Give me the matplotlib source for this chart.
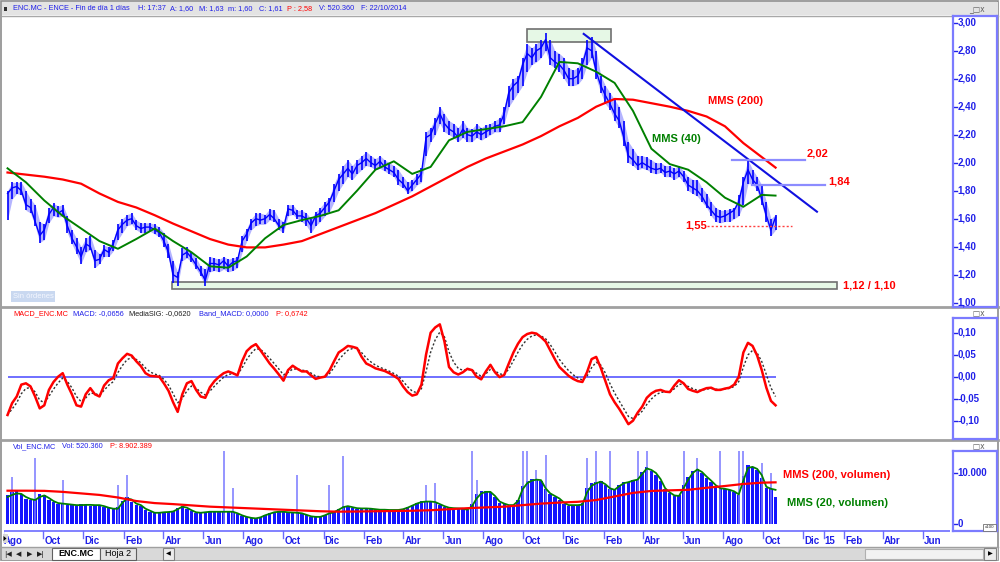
"""
Gráfico diario de ENCE (ENC.MC): precio con medias, MACD y volumen,
con el aspecto de la ventana de la plataforma de análisis.
"""

import matplotlib
matplotlib.use('Agg')
import matplotlib.pyplot as plt
import matplotlib.dates as mdates
from matplotlib.patches import Rectangle, Polygon
import pandas as pd

plt.rcParams['font.family'] = ['Liberation Sans', 'DejaVu Sans']

# Semanas con datos (lunes), agosto 2011 - octubre 2014
semanas = pd.date_range('2011-08-08', '2014-10-20', freq='7D')

precio_max = [
    1.80, 1.86, 1.86, 1.86, 1.80, 1.74, 1.70, 1.58, 1.56, 1.68,
    1.71, 1.69, 1.70, 1.62, 1.52, 1.46, 1.40, 1.46, 1.48, 1.38,
    1.35, 1.41, 1.40, 1.45, 1.56, 1.60, 1.63, 1.64, 1.59, 1.57,
    1.57, 1.57, 1.56, 1.54, 1.50, 1.42, 1.30, 1.22, 1.39, 1.40,
    1.36, 1.32, 1.26, 1.24, 1.33, 1.32, 1.31, 1.33, 1.31, 1.32,
    1.33, 1.48, 1.53, 1.60, 1.64, 1.64, 1.63, 1.67, 1.66, 1.60,
    1.58, 1.70, 1.70, 1.66, 1.66, 1.64, 1.60, 1.65, 1.68, 1.72,
    1.75, 1.85, 1.92, 1.98, 2.02, 1.98, 2.02, 2.05, 2.08, 2.05,
    2.03, 2.05, 2.02, 2.00, 1.98, 1.95, 1.90, 1.86, 1.88, 1.92,
    1.96, 2.22, 2.25, 2.32, 2.40, 2.35, 2.30, 2.28, 2.25, 2.30,
    2.25, 2.24, 2.28, 2.25, 2.27, 2.28, 2.30, 2.32, 2.40, 2.55,
    2.60, 2.62, 2.75, 2.85, 2.82, 2.85, 2.88, 2.93, 2.88, 2.80,
    2.78, 2.75, 2.68, 2.66, 2.68, 2.75, 2.88, 2.90, 2.80, 2.62,
    2.55, 2.50, 2.45, 2.40, 2.30, 2.15, 2.10, 2.05, 2.05, 2.04,
    2.02, 2.00, 2.00, 1.98, 1.98, 1.96, 1.98, 1.94, 1.90, 1.88,
    1.88, 1.82, 1.78, 1.72, 1.68, 1.66, 1.66, 1.67, 1.68, 1.77,
    1.90, 2.02, 1.95, 1.90, 1.84, 1.72, 1.60, 1.63,
]
precio_min = [
    1.59, 1.74, 1.78, 1.77, 1.66, 1.64, 1.55, 1.43, 1.45, 1.57,
    1.62, 1.61, 1.62, 1.50, 1.42, 1.35, 1.28, 1.36, 1.38, 1.25,
    1.28, 1.33, 1.33, 1.37, 1.45, 1.50, 1.55, 1.56, 1.52, 1.50,
    1.50, 1.51, 1.49, 1.47, 1.40, 1.32, 1.14, 1.12, 1.30, 1.32,
    1.29, 1.24, 1.19, 1.12, 1.22, 1.23, 1.22, 1.24, 1.22, 1.23,
    1.25, 1.36, 1.44, 1.52, 1.55, 1.56, 1.56, 1.59, 1.58, 1.52,
    1.50, 1.62, 1.63, 1.60, 1.58, 1.55, 1.50, 1.55, 1.58, 1.62,
    1.65, 1.72, 1.80, 1.85, 1.90, 1.88, 1.92, 1.95, 1.98, 1.97,
    1.95, 1.96, 1.94, 1.92, 1.90, 1.84, 1.82, 1.78, 1.80, 1.84,
    1.86, 2.05, 2.15, 2.20, 2.28, 2.22, 2.20, 2.18, 2.15, 2.18,
    2.15, 2.15, 2.18, 2.16, 2.18, 2.20, 2.22, 2.22, 2.28, 2.40,
    2.45, 2.50, 2.55, 2.65, 2.70, 2.72, 2.75, 2.80, 2.70, 2.68,
    2.65, 2.60, 2.55, 2.55, 2.56, 2.60, 2.70, 2.75, 2.60, 2.50,
    2.42, 2.38, 2.30, 2.25, 2.12, 2.00, 1.98, 1.95, 1.96, 1.95,
    1.93, 1.92, 1.93, 1.90, 1.90, 1.88, 1.90, 1.86, 1.80, 1.78,
    1.76, 1.72, 1.68, 1.62, 1.58, 1.57, 1.58, 1.58, 1.60, 1.62,
    1.70, 1.85, 1.85, 1.80, 1.70, 1.58, 1.48, 1.52,
]
precio_cierre = [
    1.78, 1.82, 1.83, 1.80, 1.70, 1.68, 1.58, 1.48, 1.52, 1.63,
    1.68, 1.64, 1.66, 1.55, 1.46, 1.40, 1.33, 1.42, 1.40, 1.30,
    1.31, 1.38, 1.36, 1.42, 1.52, 1.56, 1.59, 1.60, 1.55, 1.53,
    1.54, 1.54, 1.52, 1.50, 1.44, 1.36, 1.20, 1.18, 1.34, 1.36,
    1.32, 1.27, 1.22, 1.16, 1.28, 1.28, 1.27, 1.30, 1.26, 1.29,
    1.30, 1.44, 1.49, 1.57, 1.60, 1.59, 1.60, 1.63, 1.60, 1.55,
    1.53, 1.67, 1.66, 1.62, 1.62, 1.60, 1.55, 1.62, 1.64, 1.68,
    1.72, 1.80, 1.88, 1.92, 1.96, 1.92, 1.98, 2.00, 2.03, 2.00,
    1.98, 2.01, 1.97, 1.95, 1.93, 1.88, 1.85, 1.80, 1.84, 1.88,
    1.92, 2.18, 2.20, 2.28, 2.35, 2.28, 2.24, 2.22, 2.18, 2.24,
    2.20, 2.19, 2.22, 2.20, 2.22, 2.24, 2.26, 2.27, 2.35, 2.50,
    2.55, 2.58, 2.70, 2.78, 2.75, 2.80, 2.82, 2.88, 2.75, 2.72,
    2.70, 2.66, 2.60, 2.60, 2.62, 2.70, 2.82, 2.80, 2.65, 2.55,
    2.48, 2.42, 2.35, 2.30, 2.18, 2.05, 2.02, 1.98, 2.00, 1.98,
    1.96, 1.95, 1.96, 1.93, 1.94, 1.92, 1.94, 1.90, 1.84, 1.82,
    1.80, 1.76, 1.70, 1.66, 1.62, 1.61, 1.62, 1.64, 1.66, 1.72,
    1.86, 1.95, 1.88, 1.84, 1.74, 1.62, 1.52, 1.61,
]

# Medias móviles del precio, leídas cada 4 semanas
idx_medias = list(range(0, 168, 4)) + [167]
mms200 = [
    1.93, 1.915, 1.90, 1.88, 1.85, 1.78, 1.72, 1.68, 1.625, 1.565,
    1.51, 1.455, 1.415, 1.395, 1.395, 1.415, 1.44, 1.49, 1.54, 1.59,
    1.64, 1.70, 1.76, 1.83, 1.90, 1.97, 2.03, 2.08, 2.13, 2.19,
    2.26, 2.32, 2.40, 2.455, 2.45, 2.425, 2.40, 2.37, 2.33, 2.26,
    2.14, 2.04, 1.965,
]
mms40 = [
    1.96, 1.86, 1.73, 1.62, 1.53, 1.44, 1.385, 1.455, 1.53, 1.44,
    1.36, 1.26, 1.25, 1.33, 1.46, 1.555, 1.59, 1.62, 1.66, 1.80,
    1.95, 2.01, 1.92, 1.97, 2.16, 2.22, 2.24, 2.26, 2.29, 2.47,
    2.72, 2.71, 2.65, 2.57, 2.37, 2.10, 1.99, 1.95, 1.86, 1.75,
    1.685, 1.77, 1.765,
]

macd = [
    -0.087, -0.060, -0.045, -0.018, -0.015, -0.022, -0.045, -0.072, -0.065, -0.030,
    -0.012, 0.000, 0.008, -0.018, -0.040, -0.065, -0.068, -0.040, -0.026, -0.040,
    -0.045, -0.020, -0.008, -0.003, 0.030, 0.042, 0.052, 0.048, 0.035, 0.024,
    0.008, 0.002, 0.001, 0.000, -0.015, -0.032, -0.058, -0.080, -0.040, -0.015,
    -0.010, -0.030, -0.045, -0.048, -0.024, -0.010, 0.000, 0.008, 0.012, 0.008,
    0.003, 0.035, 0.058, 0.068, 0.074, 0.060, 0.045, 0.030, 0.018, 0.005,
    -0.009, 0.015, 0.025, 0.018, 0.012, 0.012, 0.003, -0.005, -0.002, 0.000,
    0.014, 0.035, 0.055, 0.062, 0.070, 0.068, 0.065, 0.045, 0.030, 0.025,
    0.019, 0.016, 0.013, 0.008, 0.002, -0.005, -0.022, -0.035, -0.043, -0.040,
    -0.018, 0.050, 0.100, 0.112, 0.119, 0.080, 0.022, 0.010, 0.005, 0.010,
    0.018, 0.015, 0.000, -0.006, 0.012, 0.027, 0.010, -0.001, 0.004, 0.030,
    0.055, 0.075, 0.090, 0.097, 0.100, 0.098, 0.090, 0.080, 0.060, 0.040,
    0.022, 0.012, 0.002, -0.005, -0.010, -0.012, 0.010, 0.040, 0.045, 0.020,
    -0.010, -0.040, -0.058, -0.073, -0.090, -0.108, -0.100, -0.082, -0.068, -0.048,
    -0.038, -0.032, -0.030, -0.034, -0.035, -0.020, -0.008, -0.015, -0.028, -0.032,
    -0.035, -0.030, -0.026, -0.025, -0.030, -0.030, -0.027, -0.025, -0.018, 0.000,
    0.055, 0.077, 0.070, 0.048, 0.015, -0.025, -0.055, -0.065,
]

# Volumen (x100 títulos)
volumen = [
    5600, 6200, 6400, 5800, 5000, 4800, 5000, 5800, 5600, 4800,
    4300, 4000, 4200, 3800, 3700, 3600, 3900, 3800, 3600, 3800,
    3600, 3300, 3100, 2900, 3300, 4600, 5200, 4400, 3800, 3500,
    2800, 2400, 2100, 2300, 2300, 2400, 2600, 3200, 3500, 3000,
    2500, 2200, 2200, 2400, 2500, 2300, 2400, 2500, 2300, 2400,
    1900, 1500, 1300, 1100, 1100, 1400, 1800, 2200, 2400, 2500,
    2300, 2300, 2200, 2300, 2000, 1700, 1400, 1300, 1500, 1800,
    2200, 2500, 3000, 3600, 3600, 3200, 3000, 3100, 3000, 2900,
    2800, 2800, 2700, 2800, 2700, 2800, 3000, 3400, 3800, 4200,
    4500, 4600, 4300, 4200, 3700, 3300, 3100, 3100, 3000, 2900,
    2700, 4000, 5800, 6500, 6400, 6200, 5200, 4200, 3900, 3600,
    3800, 4800, 7500, 8500, 8800, 8900, 8400, 6800, 5800, 5300,
    4800, 4000, 3600, 3700, 3800, 4200, 7000, 8000, 8200, 8400,
    7600, 6800, 6800, 7700, 8200, 8300, 8600, 8900, 10200, 11200,
    10400, 9600, 8400, 6800, 6000, 5400, 5700, 7600, 9200, 10400,
    10800, 10000, 9000, 8200, 7400, 6900, 6800, 6600, 6200, 5600,
    9500, 11500, 11200, 10500, 9000, 7000, 6800, 5200,
]
# Días sueltos de volumen muy alto (semana, valor)
picos_semana = [1, 6, 12, 24, 26, 47, 49, 63, 70, 73, 91, 93, 101, 102, 112,
                113, 115, 117, 126, 128, 131, 137, 139, 147, 150, 155, 159,
                160, 164, 166]
picos_valor = [9300, 12900, 8600, 7600, 9600, 14300, 7000, 9600, 7600, 13300,
               7600, 8000, 14300, 8600, 14300, 14300, 10600, 13500, 13000,
               14300, 14300, 14300, 14300, 14300, 13000, 14300, 14300, 14300,
               12000, 10000]
vol_mms20 = [
    5300, 5700, 6000, 5900, 5300, 4900, 4700, 5300, 5600, 5100,
    4500, 4100, 4000, 3900, 3800, 3700, 3700, 3750, 3750, 3700,
    3700, 3500, 3200, 3000, 3000, 4200, 5000, 4800, 4000, 3700,
    3000, 2600, 2200, 2200, 2300, 2350, 2450, 2900, 3400, 3200,
    2700, 2300, 2200, 2300, 2400, 2400, 2400, 2400, 2400, 2400,
    2100, 1700, 1400, 1200, 1100, 1300, 1700, 2000, 2300, 2400,
    2400, 2300, 2250, 2200, 2100, 1800, 1500, 1400, 1400, 1700,
    2100, 2300, 2800, 3300, 3500, 3300, 3100, 3050, 3050, 3000,
    2900, 2800, 2800, 2750, 2750, 2750, 2900, 3200, 3600, 4000,
    4300, 4400, 4400, 4300, 3900, 3500, 3200, 3100, 3050, 3000,
    2800, 3500, 5000, 6000, 6300, 6300, 5500, 4400, 4000, 3700,
    3700, 4500, 6800, 8000, 8500, 8700, 8600, 7000, 6000, 5500,
    5000, 4200, 3700, 3700, 3700, 3800, 6200, 7500, 8000, 8300,
    7800, 7000, 6700, 7400, 8000, 8200, 8500, 8700, 9800, 10900,
    10600, 10000, 8800, 7000, 6200, 5600, 5500, 7000, 8700, 10000,
    10700, 10200, 9300, 8500, 7600, 7000, 6900, 6700, 6400, 5800,
    8500, 11000, 11200, 10800, 9600, 7300, 6900, 6700,
]
vol_mms200 = [
    6530, 6530, 6500, 6300, 6000, 5700, 5200, 4500, 4100, 3900,
    3650, 3400, 3250, 3100, 2950, 2800, 2650, 2500, 2420, 2450,
    2500, 2550, 2600, 2700, 2900, 3100, 3250, 3400, 3700, 4000,
    4200, 4350, 4700, 5400, 6100, 6480, 6600, 6700, 7100, 7450,
    7850, 8100, 8170,
]

# Dibujos del analista sobre el precio
tendencia_fechas = ['2014-01-01', '2014-12-22']
tendencia_valores = [2.92, 1.65]
niveles = [2.02, 1.84]
niveles_desde = ['2014-08-15', '2014-09-14']
niveles_hasta = ['2014-12-04', '2015-01-03']
soporte = 1.55
soporte_fechas = ['2014-07-08', '2014-11-14']
caja_techo = [('2013-10-06', '2014-02-11'), (2.86, 2.953)]
caja_suelo = [('2012-04-14', '2015-01-22'), (1.096, 1.15)]

# Eje de tiempo
meses = list(pd.date_range('2011-08-01', '2015-06-01', freq='2MS')) + [pd.Timestamp('2015-01-01')]
nombres_mes = {1: '15', 2: 'Feb', 4: 'Abr', 6: 'Jun', 8: 'Ago', 10: 'Oct', 12: 'Dic'}

AZUL = '#0000ff'
AZUL_TXT = '#2020e8'
ROJO = '#ff0000'
VERDE = '#008000'
W, H = 1000, 562


def caja(x0, y0, x1, y1):
    # rectángulo en píxeles -> coordenadas de figura
    return [x0 / W, 1 - y1 / H, (x1 - x0) / W, (y1 - y0) / H]


def panel(fig, rect, ylim, xlim):
    ax = fig.add_axes(caja(*rect))
    ax.set_xlim(*xlim)
    ax.set_ylim(*ylim)
    ax.axis('off')
    return ax


def eje_derecho(fig, rect, ylim, valores, etiquetas):
    ax = fig.add_axes(caja(*rect))
    ax.set_xlim(0, 1)
    ax.set_ylim(*ylim)
    ax.set_xticks([])
    ax.set_yticks([])
    for s in ax.spines.values():
        s.set_color('#7b7bff')
        s.set_linewidth(1.6)
    for v, t in zip(valores, etiquetas):
        ax.plot([0, 0.08], [v, v], color=AZUL_TXT, lw=1)
        ax.text(0.1, v, t, color=AZUL_TXT, fontsize=7, fontweight='bold', va='center')
    return ax


def textos(ax, x, y, partes, size=5.3):
    for xi, (t, c) in zip(x, partes):
        ax.text(xi, y, t, color=c, fontsize=size, va='center')


def main():
    fig = plt.figure(figsize=(10, 5.62), dpi=100)
    fondo = fig.add_axes([0, 0, 1, 1])
    fondo.set_xlim(0, W)
    fondo.set_ylim(H, 0)
    fondo.axis('off')

    # marco de la ventana
    fondo.add_patch(Rectangle((1, 1), 997, 559, fill=False, ec='#8c8c8c', lw=1.2))
    fondo.add_patch(Rectangle((2, 2), 996, 13, fc='#e3e3e3', ec='none'))
    fondo.plot([2, 998], [15.5, 15.5], color='#a8a8a8', lw=1)
    fondo.add_patch(Rectangle((3.5, 6.5), 3, 4, fc='#303030', ec='none'))
    textos(fondo, [13, 138, 170, 199, 228, 259, 287, 319, 361], 9,
           [('ENC.MC - ENCE - Fin de día 1 días', AZUL_TXT), ('H: 17:37', AZUL_TXT),
            ('A: 1,60', AZUL_TXT), ('M: 1,63', AZUL_TXT), ('m: 1,60', AZUL_TXT),
            ('C: 1,61', AZUL_TXT), ('P : 2,58', ROJO), ('V: 520.360', AZUL_TXT),
            ('F: 22/10/2014', AZUL_TXT)])
    for yb in [9, 313, 446]:
        fondo.text(969, yb, '_□x', color='#606060', fontsize=5.5, va='center',
                   family=['DejaVu Sans'])
    # separadores entre paneles
    for ys in [306.5, 439.5]:
        fondo.plot([2, 998], [ys, ys], color='#a0a0a0', lw=2)
    textos(fondo, [13, 73, 129, 199, 276], 313.5,
           [('MACD_ENC.MC', ROJO), ('MACD: -0,0656', AZUL_TXT),
            ('MediaSIG: -0,0620', '#202020'), ('Band_MACD: 0,0000', AZUL_TXT),
            ('P: 0,6742', ROJO)])
    textos(fondo, [13, 62, 110], 446.5,
           [('Vol_ENC.MC', AZUL_TXT), ('Vol: 520.360', AZUL_TXT), ('P: 8.902.389', ROJO)])

    # barra inferior de hojas
    fondo.add_patch(Rectangle((2, 547), 996, 13, fc='#d9d9d9', ec='none'))
    fondo.plot([2, 998], [547, 547], color='#a0a0a0', lw=1)
    for xb, t in zip([8, 19, 30, 41], ['|◀', '◀', '▶', '▶|']):
        fondo.text(xb, 554, t, fontsize=5, ha='center', va='center',
                   family=['DejaVu Sans'], color='#202020')
    fondo.add_patch(Rectangle((52, 548), 48, 12, fc='white', ec='#606060', lw=0.8))
    fondo.text(76, 554, 'ENC.MC', fontsize=6.5, fontweight='bold', ha='center', va='center')
    fondo.add_patch(Rectangle((100, 548), 36, 12, fc='#e4e4e4', ec='#606060', lw=0.8))
    fondo.text(118, 554, 'Hoja 2', fontsize=6.5, ha='center', va='center')
    fondo.add_patch(Rectangle((163, 548), 11, 12, fc='#ececec', ec='#808080', lw=0.8))
    fondo.text(168.5, 554, '◀', fontsize=4.5, ha='center', va='center',
               family=['DejaVu Sans'])
    fondo.add_patch(Rectangle((865, 549), 118, 10, fc='#f2f2f2', ec='#b0b0b0', lw=0.8))
    fondo.add_patch(Rectangle((984, 548), 12, 12, fc='#ececec', ec='#808080', lw=0.8))
    fondo.text(990, 554, '▶', fontsize=4.5, ha='center', va='center',
               family=['DejaVu Sans'])

    # escala horizontal: píxeles por día natural
    ref = mdates.date2num(pd.Timestamp('2011-10-01'))
    px_dia = 0.657
    xlim = (ref + (4 - 43) / px_dia, ref + (950 - 43) / px_dia)

    # --- precio ---
    ylim_p = (3 - (305 - 22.7) / 140, 3 - (16 - 22.7) / 140)
    ax_p = panel(fig, (4, 16, 950, 305), ylim_p, xlim)
    ax_p.fill_between(semanas, precio_min, precio_max, color='#b4b4ff', lw=0)
    ax_p.vlines(semanas, precio_min, precio_max, color=AZUL, lw=1.2)
    ax_p.plot(semanas, precio_cierre, color=AZUL, lw=1.0)
    fechas_medias = semanas[idx_medias]
    ax_p.plot(fechas_medias, mms200, color=ROJO, lw=1.6)
    ax_p.plot(fechas_medias, mms40, color=VERDE, lw=1.4)
    ax_p.plot(pd.to_datetime(tendencia_fechas), tendencia_valores, color='#1010e0', lw=1.5)
    for v, d0, d1 in zip(niveles, niveles_desde, niveles_hasta):
        ax_p.plot(pd.to_datetime([d0, d1]), [v, v], color='#8c8cff', lw=1.6)
    ax_p.plot(pd.to_datetime(soporte_fechas), [soporte, soporte], color='#ff4040',
              lw=1, ls=(0, (1.5, 1.5)))
    for (d0, d1), (v0, v1) in [caja_techo, caja_suelo]:
        x0 = mdates.date2num(pd.Timestamp(d0))
        x1 = mdates.date2num(pd.Timestamp(d1))
        ax_p.add_patch(Rectangle((x0, v0), x1 - x0, v1 - v0, fc='#e6f8e6',
                                 ec='#707070', lw=1.2, zorder=1))
    eje_derecho(fig, (953, 16, 997, 307), (3 - (307 - 22.7) / 140, 3 - (16 - 22.7) / 140),
                [1.0 + 0.2 * k for k in range(11)],
                [('%.2f' % (1.0 + 0.2 * k)).replace('.', ',') for k in range(11)])

    # --- MACD ---
    ylim_m = ((376.7 - 438) / 440, (376.7 - 308) / 440)
    ax_m = panel(fig, (4, 308, 950, 438), ylim_m, xlim)
    senal = pd.Series(macd).ewm(span=3, adjust=False).mean()
    ax_m.hlines(0, semanas[0], semanas[-1], color='#4848ff', lw=1.1)
    ax_m.plot(semanas, senal, color='#303030', lw=1, ls=(0, (1.5, 1.5)))
    ax_m.plot(semanas, macd, color=ROJO, lw=1.8)
    eje_derecho(fig, (953, 318, 997, 439), ((376.7 - 439) / 440, (376.7 - 318) / 440),
                [0.10, 0.05, 0.0, -0.05, -0.10],
                ['0,10', '0,05', '0,00', '-0,05', '-0,10'])

    # --- volumen ---
    ylim_v = ((524 - 530) / 51 * 1e4, (524 - 441) / 51 * 1e4)
    ax_v = panel(fig, (4, 441, 950, 530), ylim_v, xlim)
    ax_v.vlines(semanas[picos_semana], 0, picos_valor, color='#7878ff', lw=1.1)
    ax_v.bar(semanas, volumen, width=5.2, color='#1414ff')
    ax_v.plot(semanas, vol_mms20, color=VERDE, lw=1.3)
    ax_v.plot(fechas_medias, vol_mms200, color=ROJO, lw=1.6)
    eje_derecho(fig, (953, 451, 997, 531), ((524 - 531) / 51 * 1e4, (524 - 451) / 51 * 1e4),
                [10000, 0], ['10.000', '0'])

    # --- eje de tiempo ---
    ax_t = panel(fig, (4, 530, 950, 547), (1, 0), xlim)
    ax_t.plot(xlim, [0.08, 0.08], color='#6c6cff', lw=1.2)
    for m in meses:
        ax_t.plot([m, m], [0.08, 0.45], color='#6c6cff', lw=1)
        ax_t.text(mdates.date2num(m) + 2, 0.65, nombres_mes[m.month], color=AZUL_TXT,
                  fontsize=7, fontweight='bold', va='center')

    # --- textos y detalles encima ---
    capa = fig.add_axes([0, 0, 1, 1])
    capa.set_xlim(0, W)
    capa.set_ylim(H, 0)
    capa.axis('off')
    capa.patch.set_alpha(0)
    rotulos = [('MMS (200)', 708, 101, ROJO), ('MMS (40)', 652, 139, VERDE),
               ('2,02', 807, 153, ROJO), ('1,84', 828, 182, ROJO),
               ('1,55', 685, 226, ROJO), ('1,12 / 1,10', 843, 286, ROJO),
               ('MMS (200, volumen)', 783, 475, ROJO), ('MMS (20, volumen)', 787, 503, VERDE)]
    for t, x, y, c in rotulos:
        capa.text(x, y, t, color=c, fontsize=8, fontweight='bold', va='center')
    capa.add_patch(Rectangle((11, 291), 44, 11, fc='#c9d8f0', ec='none'))
    capa.text(13, 296.5, 'Sin órdenes', color='#f4f7ff', fontsize=5.5, va='center')
    # botón de desplazamiento a la izquierda del eje de tiempo
    capa.add_patch(Rectangle((2.5, 534), 5, 9, fc='#d8d8d8', ec='none'))
    capa.add_patch(Polygon([(3.5, 536), (3.5, 541), (6.5, 538.5)], closed=True,
                           fc='black', ec='none'))
    capa.add_patch(Rectangle((983, 524), 13, 7, fc='white', ec='#707070', lw=0.6))
    capa.text(989.5, 527.5, 'x100', color='#303030', fontsize=3.2, ha='center', va='center')

    fig.savefig('out.png', dpi=100)


if __name__ == '__main__':
    main()
